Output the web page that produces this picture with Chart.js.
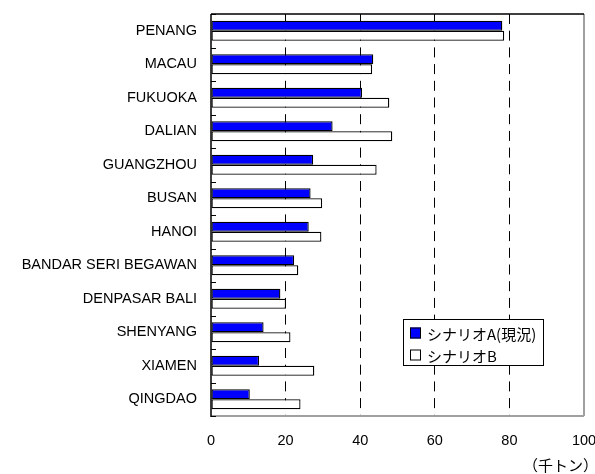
<!DOCTYPE html>
<html>
<head>
<meta charset="utf-8">
<script src="https://cdn.jsdelivr.net/npm/chart.js@4"></script>
<style>
  html, body { margin: 0; padding: 0; background: #fff; }
  #wrap { width: 595px; height: 474px; }
</style>
</head>
<body>
<div id="wrap"><canvas id="chart" width="595" height="474"></canvas></div>
<script>
const cities = ['PENANG', 'MACAU', 'FUKUOKA', 'DALIAN', 'GUANGZHOU', 'BUSAN', 'HANOI',
  'BANDAR SERI BEGAWAN', 'DENPASAR BALI', 'SHENYANG', 'XIAMEN', 'QINGDAO'];
const scenarioA = [78.1, 43.5, 40.5, 32.6, 27.4, 26.7, 26.2, 22.3, 18.6, 14.1, 12.9, 10.4];
const scenarioB = [78.6, 43.2, 47.8, 48.6, 44.4, 29.8, 29.6, 23.4, 20.1, 21.3, 27.7, 24.0];
const seriesNames = ['シナリオA(現況)', 'シナリオB'];
const unitLabel = '（千トン）';

const latin = '"Liberation Sans", Arial, sans-serif';
const cjk = '"Noto Sans CJK JP", "Liberation Sans", sans-serif';

// frame, inner tick marks, legend box and unit label
const framePlugin = {
  id: 'frame',
  afterDraw(chart) {
    const { ctx, chartArea: a, scales } = chart;
    ctx.save();
    // right + bottom edges (gray)
    ctx.strokeStyle = '#a0a0a0';
    ctx.lineWidth = 2;
    ctx.beginPath();
    ctx.moveTo(a.right, a.top); ctx.lineTo(a.right, a.bottom);
    ctx.moveTo(a.left, a.bottom); ctx.lineTo(a.right, a.bottom);
    ctx.stroke();
    // top + left edges (black)
    ctx.strokeStyle = '#000';
    ctx.lineWidth = 1.5;
    ctx.beginPath();
    ctx.moveTo(a.left, a.top); ctx.lineTo(a.right, a.top);
    ctx.moveTo(a.left, a.top); ctx.lineTo(a.left, a.bottom + 1);
    ctx.stroke();
    // small inward ticks at category boundaries
    const y = scales.y;
    ctx.lineWidth = 1;
    ctx.beginPath();
    for (let i = 0; i <= cities.length; i++) {
      const py = Math.round(y.getPixelForValue(i - 0.5)) + 0.5;
      ctx.moveTo(a.left, py); ctx.lineTo(a.left + 5, py);
    }
    ctx.stroke();

    // legend
    const lx = 403, ly = 319, lw = 140, lh = 46;
    ctx.fillStyle = '#fff';
    ctx.fillRect(lx, ly, lw, lh);
    ctx.strokeStyle = '#000';
    ctx.lineWidth = 1;
    ctx.strokeRect(lx + 0.5, ly + 0.5, lw, lh);
    ctx.font = '15px ' + cjk;
    ctx.textBaseline = 'middle';
    ctx.textAlign = 'left';
    chart.data.datasets.forEach((ds, i) => {
      const cy = ly + 14 + i * 22;
      ctx.fillStyle = ds.backgroundColor;
      ctx.fillRect(lx + 7, cy - 5.5, 11, 11);
      ctx.strokeStyle = '#000';
      ctx.strokeRect(lx + 7.5, cy - 5, 10, 10);
      ctx.fillStyle = '#000';
      ctx.fillText(ds.label, lx + 24, cy + 1);
    });

    // unit label
    ctx.font = '15px ' + cjk;
    ctx.textAlign = 'right';
    ctx.fillText(unitLabel, 598, 465);
    ctx.restore();
  }
};

new Chart(document.getElementById('chart'), {
  type: 'bar',
  data: {
    labels: cities,
    datasets: [
      {
        label: seriesNames[0],
        data: scenarioA,
        backgroundColor: '#0000ff',
        borderColor: '#000',
        borderWidth: 1.3,
        borderSkipped: false
      },
      {
        label: seriesNames[1],
        data: scenarioB,
        backgroundColor: '#ffffff',
        borderColor: '#000',
        borderWidth: 1.3,
        borderSkipped: false
      }
    ]
  },
  options: {
    indexAxis: 'y',
    responsive: false,
    animation: false,
    devicePixelRatio: 1,
    categoryPercentage: 0.6,
    barPercentage: 1.0,
    layout: { padding: { top: 14, right: 11, left: 0, bottom: 0 } },
    scales: {
      x: {
        min: 0,
        max: 100,
        ticks: {
          stepSize: 20,
          color: '#000',
          padding: 16,
          maxRotation: 0,
          font: { family: latin, size: 14.5 }
        },
        grid: {
          drawTicks: false,
          color: ctx => (ctx.tick && (ctx.tick.value === 0 || ctx.tick.value === 100)) ? 'rgba(0,0,0,0)' : '#000',
          lineWidth: 1
        },
        border: { display: false, dash: [10, 6.7] },
        afterFit(scale) {
          scale.height = 58;
          scale.paddingLeft = 0;
          scale.paddingRight = 0;
        }
      },
      y: {
        ticks: {
          color: '#000',
          padding: 14,
          font: { family: latin, size: 14.5 }
        },
        grid: { display: false, drawTicks: false },
        border: { display: false },
        afterFit(scale) {
          scale.width = 211;
          scale.paddingTop = 0;
          scale.paddingBottom = 0;
        }
      }
    },
    plugins: {
      legend: { display: false },
      tooltip: { enabled: false }
    }
  },
  plugins: [framePlugin]
});
</script>
</body>
</html>
